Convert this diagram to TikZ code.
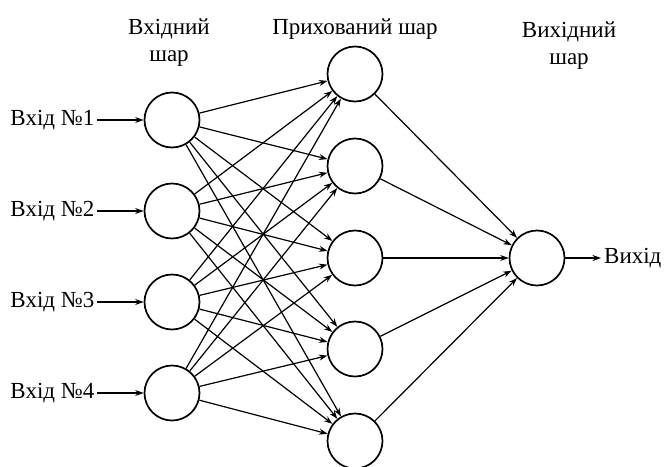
\documentclass[tikz,border=0pt]{standalone}
\usepackage{fontspec}
\setmainfont{Liberation Serif}
\usetikzlibrary{arrows.meta, positioning}
\tikzset{
	neuron/.style ={circle, draw=black, line width=1.7pt, minimum size=55pt, inner sep=0pt},
	wire/.style   ={-{Stealth[length=8.5pt, width=6pt]}, line width=1.2pt},
	inlbl/.style  ={anchor=east, inner sep=2.5pt},
	title/.style  ={anchor=north, align=center, inner sep=0pt},
}

\begin{document}
\begin{tikzpicture}[x=1pt, y=-1pt, font=\fontsize{23}{27}\selectfont]
	\useasboundingbox (0,0) rectangle (669,466);
	% titles
	\node[title] (tin)  at (169,19) {Вхідний\\шар};
	\node[title] (thid) at (355,19) {Прихований шар};
	\node[title] (tout) at (569,22) {Вихідний\\шар};
	% input layer
	\foreach \n/\y in {1/120, 2/211, 3/302, 4/393} {
		\node[neuron] (i\n) at (172,\y) {};
		\node[inlbl] (lab\n) at (97,\y) {Вхід №\n};
		\draw[wire] (lab\n.east) -- (i\n);
	}
	% hidden layer
	\foreach \n/\y in {1/74, 2/166, 3/258, 4/349, 5/441}
		\node[neuron] (h\n) at (355,\y) {};
	% output layer
	\node[neuron] (o) at (537,258) {};
	\node[anchor=west, inner sep=3pt] (labo) at (601,258) {Вихід};
	\draw[wire] (o) -- (labo.west);
	% connections
	\foreach \a in {1,...,4}
		\foreach \b in {1,...,5}
			\draw[wire] (i\a) -- (h\b);
	\foreach \b in {1,...,5}
		\draw[wire] (h\b) -- (o);
\end{tikzpicture}
\end{document}
